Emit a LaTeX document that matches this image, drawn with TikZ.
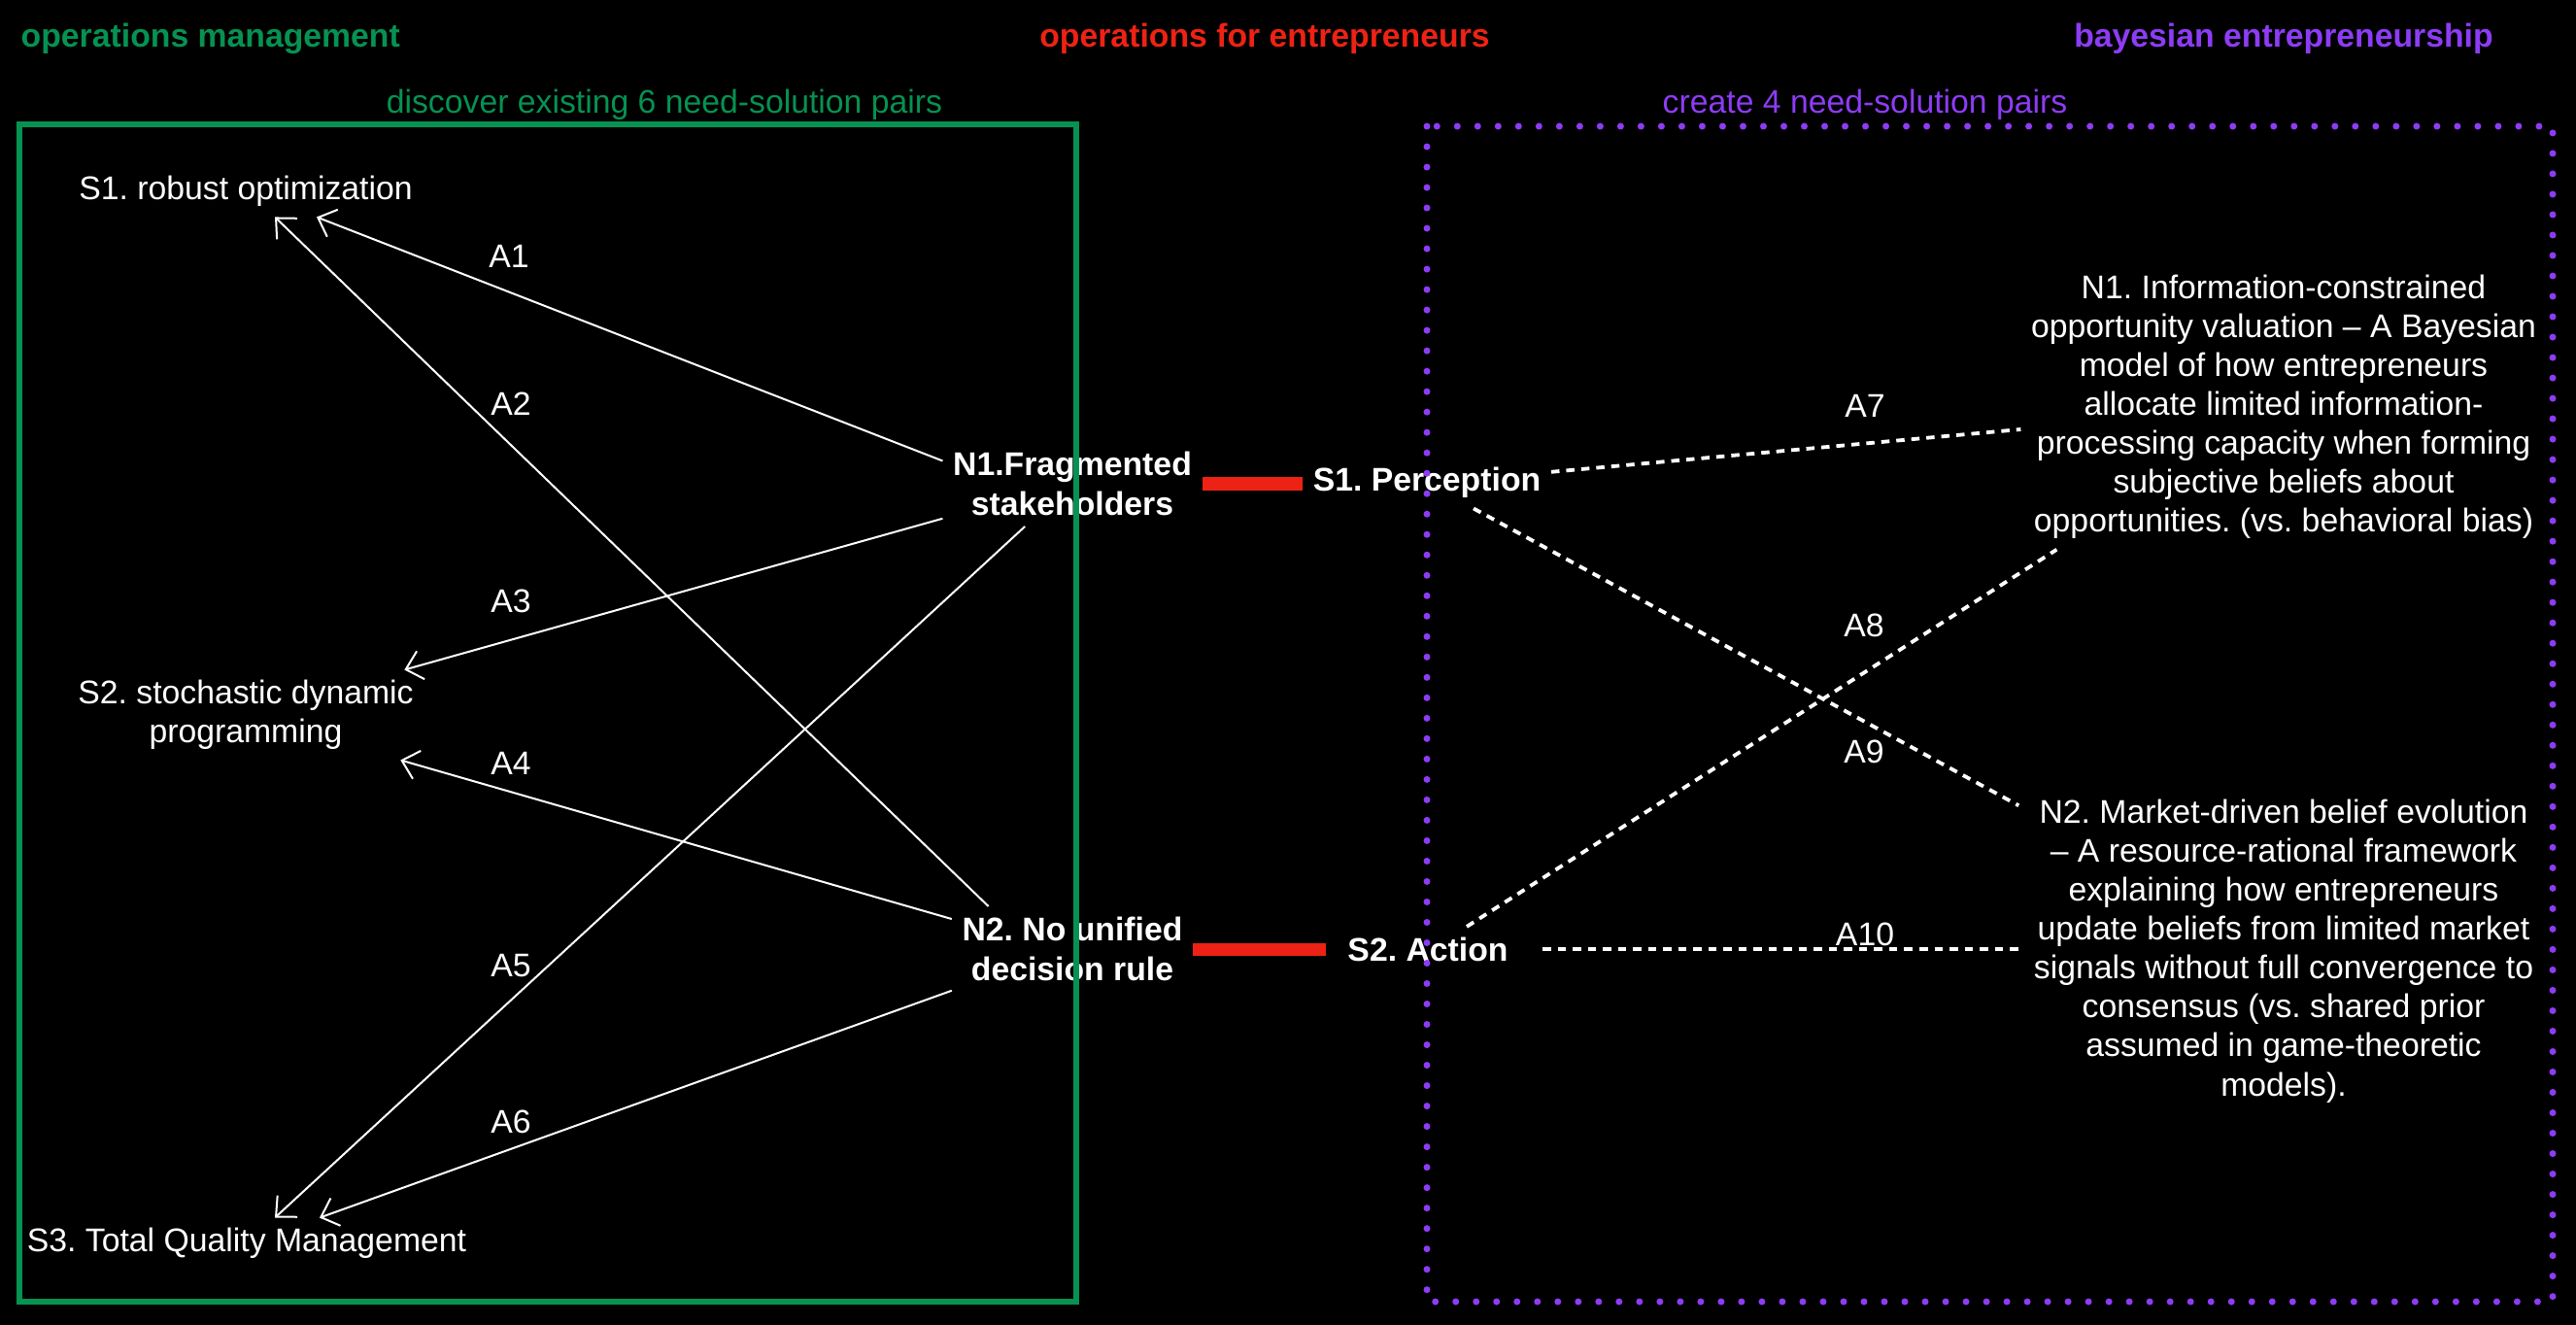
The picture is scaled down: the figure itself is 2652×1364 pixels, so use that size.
\documentclass[tikz,border=0pt]{standalone}
\usepackage{fontspec}
\setmainfont{Liberation Sans}
\usepackage{tikz}
\usetikzlibrary{arrows.meta,calc}
\usepackage{xcolor}
\definecolor{omgreen}{RGB}{6,146,82}
\definecolor{oered}{RGB}{238,34,20}
\definecolor{bepurple}{RGB}{141,60,245}
\frenchspacing

\begin{document}
\begin{tikzpicture}[
    x=0.01cm, y=-0.01cm,
    txt/.style={text=white, font=\fontsize{9.6}{11.4}\selectfont, inner sep=1mm, align=center},
    boldtxt/.style={txt, font=\fontsize{9.6}{11.9}\selectfont\bfseries},
    title/.style={font=\fontsize{9.6}{11.4}\selectfont\bfseries, inner sep=0pt},
    link/.style={draw=white, line width=0.2mm, -{Straight Barb[length=1.6mm,width=3mm]}},
    dlink/.style={draw=white, line width=0.38mm, dash pattern=on 0.85mm off 0.7mm},
    redbar/.style={draw=oered, line width=1.3mm}
]

\fill[black] (0,0) rectangle (2652,1364);
\useasboundingbox (0,0) rectangle (2652,1364);

\node[title, text=omgreen, anchor=west] (tom) at (21,40) {operations management};
\node[title, text=oered] (toe) at (1302,40) {operations for entrepreneurs};
\node[title, text=bepurple] (tbe) at (2351,40) {bayesian entrepreneurship};
\node[txt, text=omgreen] (lom) at (684,108) {discover existing 6 need-solution pairs};
\node[txt, text=bepurple] (lbe) at (1920,108) {create 4 need-solution pairs};

\node[txt] (s1) at (253,197) {S1. robust optimization};
\node[txt] (s2) at (253,736) {S2. stochastic dynamic\\programming};
\node[txt] (s3) at (254,1280) {S3. Total Quality Management};

\node[boldtxt] (n1) at (1104,498) {N1.Fragmented\\stakeholders};
\node[boldtxt] (n2) at (1104,977) {N2. No unified\\decision rule};
\node[boldtxt] (p1) at (1469,497) {S1. Perception};
\node[boldtxt] (p2) at (1470,977) {S2. Action};

\node[txt] (b1) at (2351,419) {N1. Information-constrained\\
    opportunity valuation – A Bayesian\\
    model of how entrepreneurs\\
    allocate limited information-\\
    processing capacity when forming\\
    subjective beliefs about\\
    opportunities. (vs. behavioral bias)};
\node[txt] (b2) at (2351,979) {N2. Market-driven belief evolution\\
    – A resource-rational framework\\
    explaining how entrepreneurs\\
    update beliefs from limited market\\
    signals without full convergence to\\
    consensus (vs. shared prior\\
    assumed in game-theoretic\\
    models).};

\foreach \lab/\x/\y in {A1/524/264, A2/526/416, A3/526/619, A4/526/786, A5/526/994,
    A6/526/1155, A7/1920/418, A8/1919/644, A9/1919/774, A10/1920/962}
    \node[txt] (\lab) at (\x,\y) {\lab};

\draw[link] (n1.170) -- ($(s1.south)+(73,0)$);
\draw[link] (n2.153) -- ($(s1.south)+(30,0)$);
\draw[link] (n1.195) -- ($(s2.north east)+(-20,0)$);
\draw[link] (n2.166) -- ($(s2.south east)+(-24,0)$);
\draw[link] (n1.222) -- ($(s3.north)+(29,0)$);
\draw[link] (n2.199) -- ($(s3.north)+(75,0)$);

\draw[dlink] (p1.5) -- ($(b1.west)+(0,23)$);
\draw[dlink] ($(p2.north)+(40,0)$) -- ($(b1.south west)+(37,0)$);
\draw[dlink] ($(p1.south)+(48,0)$) -- ($(b2.north west)+(-5,17)$);
\draw[dlink] ($(p2.east)+(25,0)$) -- ($(b2.west)+(-4,-2)$);

\draw[redbar] (n1.east) -- (n1.east -| p1.west);
\draw[redbar, shorten >=1.2mm] (n2.east) -- (n2.east -| p2.west);

\draw[omgreen, line width=0.65mm] (20,128) rectangle (1108,1340);
\draw[bepurple, line width=0.7mm, line cap=round, dash pattern=on 0pt off 2.1mm] (1469,130) rectangle (2628,1340);

\end{tikzpicture}
\end{document}
